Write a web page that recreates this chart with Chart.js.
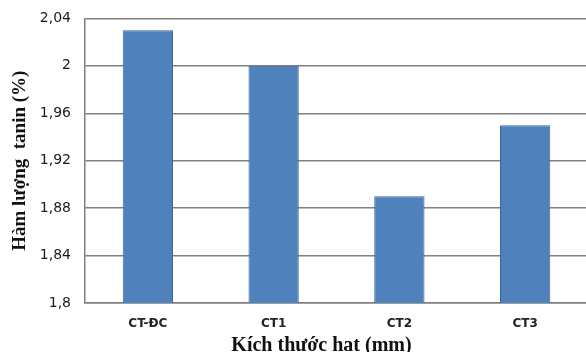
<!DOCTYPE html>
<html>
<head>
<meta charset="utf-8">
<script src="https://cdn.jsdelivr.net/npm/chart.js@4.4.0/dist/chart.umd.min.js"></script>
<style>
  html, body { margin: 0; padding: 0; background: #fff; overflow: hidden; }
  #wrap { width: 588px; height: 362px; margin-top: -4px; }
</style>
</head>
<body>
<div id="wrap"><canvas id="chart" width="588" height="362"></canvas></div>
<script>
const categories = ["CT-ĐC", "CT1", "CT2", "CT3"];
const tanin = [2.03, 2.00, 1.89, 1.95];
const yMin = 1.8, yMax = 2.04, yStep = 0.04;

const fmtTick = v => String(Number(v.toFixed(2))).replace(".", ",");
// trailing blanks push the centred title a little to the left, as in the original
const xTitle = "Kích thước hạt (mm)" + "\u00a0".repeat(6);

new Chart(document.getElementById("chart"), {
    type: "bar",
    data: {
        labels: categories,
        datasets: [{
            data: tanin,
            backgroundColor: "#4f81bd",
            borderColor: "#3b679b",
            borderWidth: 1,
            barPercentage: 0.4,
            categoryPercentage: 1
        }]
    },
    options: {
        responsive: false, animation: false,
        layout: { padding: { left: 9, top: 15, right: 0, bottom: 0 } },
        plugins: { legend: { display: false }, tooltip: { enabled: false } },
        scales: {
            x: {
                grid: { display: false, drawTicks: false },
                border: { display: true, color: "#7f7f7f", width: 1.5 },
                ticks: { color: "#222", padding: 14, font: { family: "DejaVu Sans", size: 12, weight: "bold" } },
                title: {
                    display: true, text: xTitle, color: "#111",
                    font: { family: "Liberation Serif", size: 20, weight: "bold" }, padding: { top: 2, bottom: 0 }
                },
                afterFit: s => { s.height = 55; }
            },
            y: {
                min: yMin, max: yMax,
                grid: { color: "#808080", lineWidth: 1.5, drawTicks: false },
                border: { display: true, color: "#7f7f7f", width: 1.5 },
                ticks: { stepSize: yStep, padding: 14, color: "#1a1a1a", callback: v => fmtTick(v),
                         font: { family: "DejaVu Sans", size: 14 } },
                title: {
                    display: true, text: "Hàm lượng  tanin (%)", color: "#111",
                    font: { family: "Liberation Serif", size: 19, weight: "bold" }, padding: 0
                },
                afterFit: s => { s.width = 76; }
            }
        }
    }
});
</script>
</body>
</html>
